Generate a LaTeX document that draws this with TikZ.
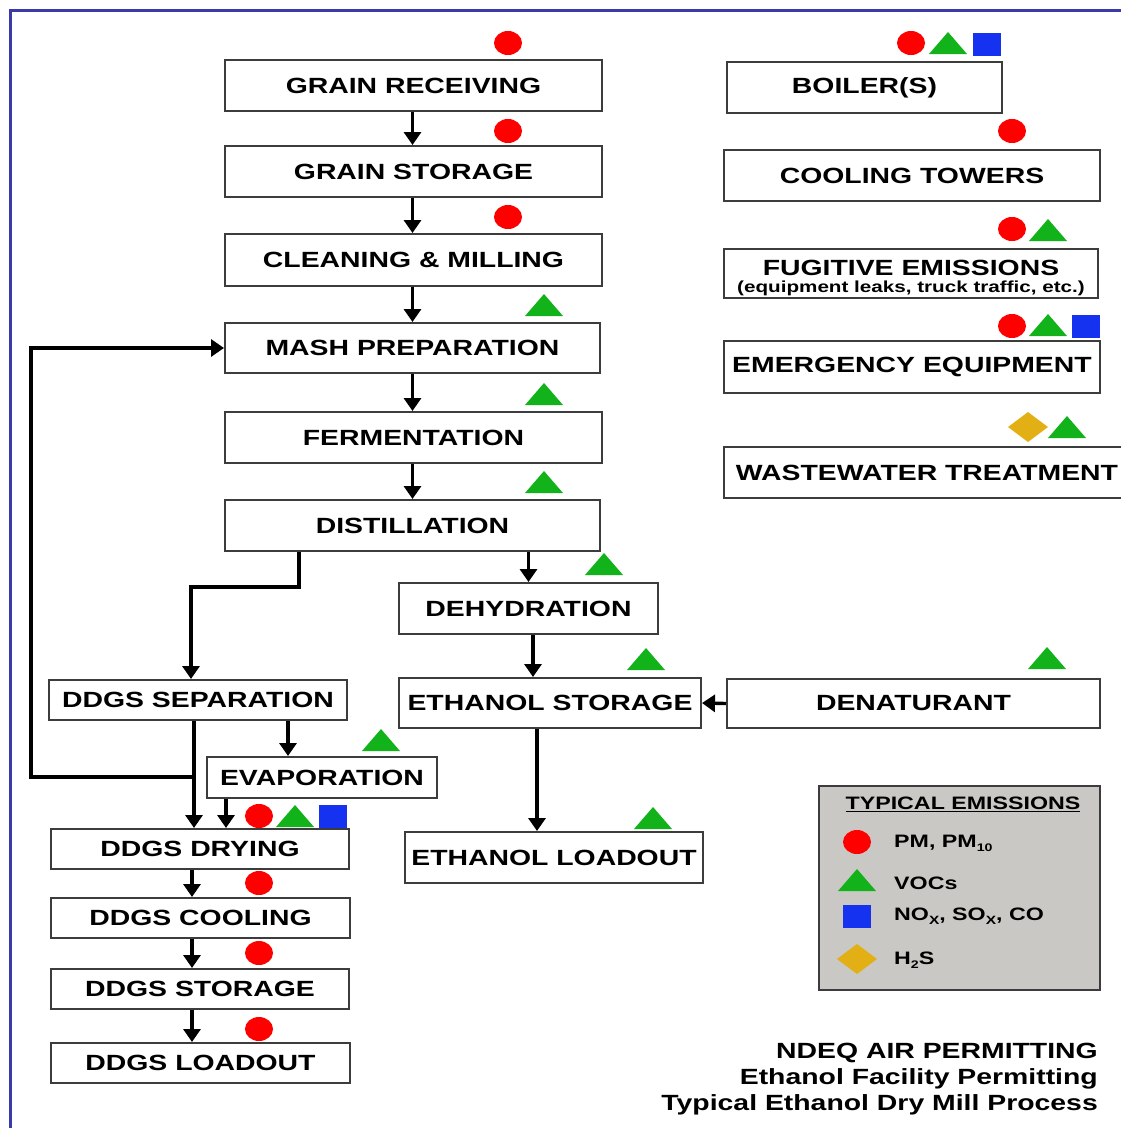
\documentclass[tikz,border=0pt]{standalone}
\usepackage{fontspec}
\setmainfont{Liberation Sans}[FakeStretch=1.29]
\usetikzlibrary{arrows.meta}

\definecolor{pmred}{RGB}{255,0,0}
\definecolor{vocgreen}{RGB}{18,178,26}
\definecolor{noxblue}{RGB}{20,50,240}
\definecolor{hsgold}{RGB}{226,176,20}
\definecolor{framebl}{RGB}{58,58,170}
\definecolor{legendgray}{RGB}{201,200,196}
\definecolor{boxline}{RGB}{60,60,60}

\tikzset{
    proc/.style={draw=boxline, line width=2pt, minimum height=51pt, inner sep=0pt,
        font=\fontsize{22}{26}\selectfont\bfseries},
    ddgs/.style={proc, minimum height=40pt},
    flow/.style={line width=3.4pt, -{Triangle[length=13pt, width=17pt]}},
    pm/.pic={\fill[pmred] (0,0) ellipse [x radius=14, y radius=12];},
    voc/.pic={\fill[vocgreen] (-19,11) -- (19,11) -- (0,-11) -- cycle;},
    nox/.pic={\fill[noxblue] (-14,-11.5) rectangle (14,11.5);},
    hs/.pic={\fill[hsgold] (-20,0) -- (0,-15) -- (20,0) -- (0,15) -- cycle;},
    legtext/.style={anchor=west, inner sep=0pt, font=\fontsize{18}{20}\selectfont\bfseries}
}

\begin{document}
\begin{tikzpicture}[x={(1pt,0pt)}, y={(0pt,-1pt)}]

    \useasboundingbox (0,0) rectangle (1121,1128);
    \draw[framebl, line width=3pt] (10,1130) -- (10,10) -- (1125,10);

    \node[proc, minimum width=377pt] (recv) at (413.5,85.5) {GRAIN RECEIVING};
    \node[proc, minimum width=377pt] (gstor) at (413.5,171.5) {GRAIN STORAGE};
    \node[proc, minimum width=377pt, minimum height=52pt] (clean) at (413.5,260) {CLEANING \& MILLING};
    \node[proc, minimum width=375pt, minimum height=50pt] (mash) at (412.5,348) {MASH PREPARATION};
    \node[proc, minimum width=377pt] (ferm) at (413.5,437.5) {FERMENTATION};
    \node[proc, minimum width=375pt] (dist) at (412.5,525.5) {DISTILLATION};
    \node[proc, minimum width=259pt] (dehyd) at (528.5,608.5) {DEHYDRATION};
    \node[proc, minimum width=302pt, minimum height=50pt] (estore) at (550,703) {ETHANOL STORAGE};
    \node[proc, minimum width=373pt, minimum height=49pt] (denat) at (913.5,703.5) {DENATURANT};
    \node[proc, minimum width=298pt] (eload) at (554,857.5) {ETHANOL LOADOUT};

    \node[ddgs, minimum width=298pt] (sep) at (198,700) {DDGS SEPARATION};
    \node[ddgs, minimum width=230pt, minimum height=41pt] (evap) at (322,777.5) {EVAPORATION};
    \node[ddgs, minimum width=298pt] (dry) at (200,849) {DDGS DRYING};
    \node[ddgs, minimum width=299pt] (cool) at (200.5,918) {DDGS COOLING};
    \node[ddgs, minimum width=298pt] (dstor) at (200,989) {DDGS STORAGE};
    \node[ddgs, minimum width=299pt] (dload) at (200.5,1063) {DDGS LOADOUT};

    \node[proc, minimum width=275pt] (boiler) at (864.5,87.5) {BOILER(S)};
    \node[proc, minimum width=376pt] (ctow) at (912,175.5) {COOLING TOWERS};
    \node[proc, minimum width=374pt, minimum height=49pt, align=center] (fug) at (911,273.5)
        {\rule{0pt}{26pt}FUGITIVE EMISSIONS\\[-8.5pt]{\fontsize{16}{18}\selectfont (equipment leaks, truck traffic, etc.)\rule[-5.5pt]{0pt}{5.5pt}}};
    \node[proc, minimum width=376pt, minimum height=52pt] (emerg) at (912,367) {EMERGENCY EQUIPMENT};
    \node[proc, minimum width=406pt] (waste) at (927,472.5) {WASTEWATER TREATMENT};

    \coordinate (gx) at (412.5,0);
    \coordinate (ex) at (533,0);
    \coordinate (jn) at (194,777);
    \coordinate (ddx) at (192,0);

    \draw[flow] (recv.south -| gx) -- (gstor.north -| gx);
    \draw[flow] (gstor.south -| gx) -- (clean.north -| gx);
    \draw[flow] (clean.south -| gx) -- (mash.north -| gx);
    \draw[flow] (mash.south -| gx) -- (ferm.north -| gx);
    \draw[flow] (ferm.south -| gx) -- (dist.north -| gx);
    \draw[flow] (dist.south -| dehyd.north) -- (dehyd.north);
    \draw[flow] (dist.south -| 299,0) -- ++(0,35) -| ([xshift=-7pt]sep.north);
    \draw[flow] (dehyd.south -| ex) -- (estore.north -| ex);
    \draw[flow] (denat.west) -- (estore.east);
    \draw[flow] ([xshift=-13pt]estore.south) -- (eload.north -| 537,0);

    \draw[flow] (sep.south -| jn) -- (dry.north -| jn);
    \draw[flow] (sep.south -| 288,0) -- (evap.north -| 288,0);
    \draw[flow] (evap.south -| 226,0) -- (dry.north -| 226,0);
    \draw[flow] (jn) -- ++(-163,0) |- (mash.west);

    \draw[flow] (dry.south -| ddx) -- (cool.north -| ddx);
    \draw[flow] (cool.south -| ddx) -- (dstor.north -| ddx);
    \draw[flow] (dstor.south -| ddx) -- (dload.north -| ddx);

    \foreach \x/\y in {508/43, 508/131, 508/217, 259/816, 259/883, 259/953, 259/1029,
            911/43, 1012/131, 1012/229, 1012/326}
        \pic at (\x,\y) {pm};
    \foreach \x/\y in {544/305, 544/394, 544/482, 604/564, 646/659, 1047/658, 653/818,
            381/740, 295/816, 948/43, 1048/230, 1048/325, 1067/427}
        \pic at (\x,\y) {voc};
    \foreach \x/\y in {333/816, 987/44, 1086/326}
        \pic at (\x,\y) {nox};
    \pic at (1028,427) {hs};

    \draw[boxline, line width=2pt, fill=legendgray] (819,786) rectangle (1100,990);
    \node[legtext, anchor=center] (legtitle) at (963,804) {\underline{TYPICAL EMISSIONS}};
    \pic at (857,842) {pm};
    \pic at (857,880) {voc};
    \pic at (857,916) {nox};
    \pic at (857,959) {hs};
    \node[legtext] (legpm) at (894,843) {PM, PM\raisebox{-4pt}{\fontsize{11}{12}\selectfont 10}};
    \node[legtext] (legvoc) at (894,883) {VOCs};
    \node[legtext] (legnox) at (894,916) {NO\raisebox{-4pt}{\fontsize{12}{12}\selectfont X}, SO\raisebox{-4pt}{\fontsize{12}{12}\selectfont X}, CO};
    \node[legtext] (leghs) at (894,960) {H\raisebox{-4pt}{\fontsize{11}{12}\selectfont 2}S};

    \node[anchor=east, align=right, inner sep=0pt, font=\fontsize{22}{26}\selectfont\bfseries] (title)
        at (1098,1079) {NDEQ AIR PERMITTING\\Ethanol Facility Permitting\\Typical Ethanol Dry Mill Process};

\end{tikzpicture}
\end{document}
